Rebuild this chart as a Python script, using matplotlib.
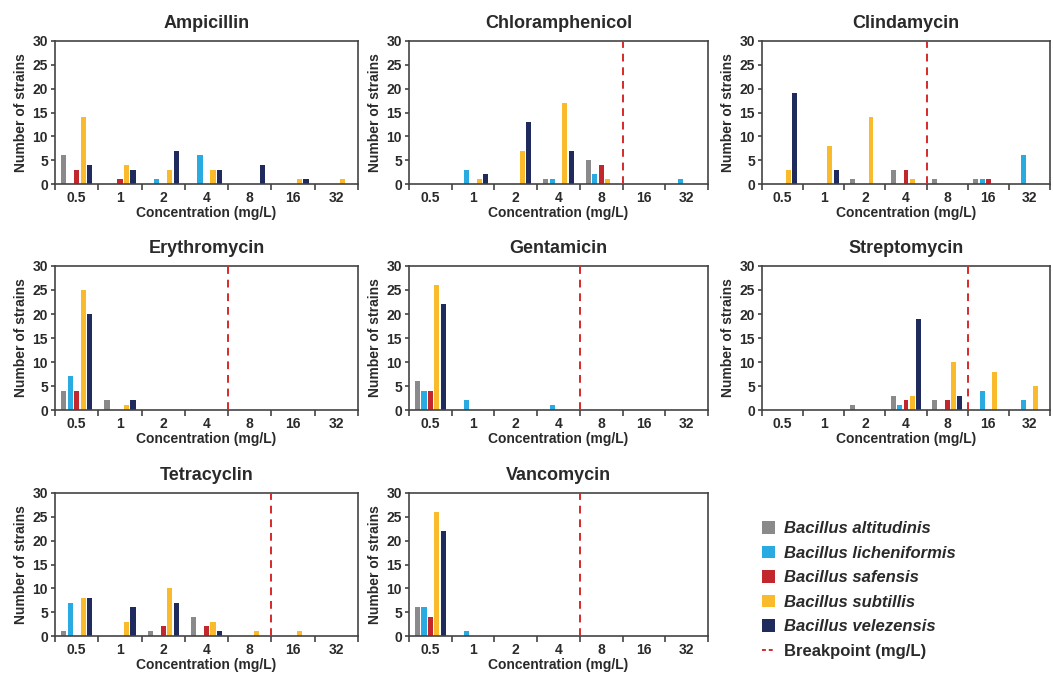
import numpy as np
import matplotlib
matplotlib.use('Agg')
from matplotlib import pyplot as plt
from matplotlib.patches import Patch
from matplotlib.lines import Line2D

plt.rcParams['font.family'] = ['Liberation Sans', 'DejaVu Sans']

concentrations = ['0.5', '1', '2', '4', '8', '16', '32']
species = ['Bacillus altitudinis', 'Bacillus licheniformis', 'Bacillus safensis',
           'Bacillus subtillis', 'Bacillus velezensis']
colors = ['#8a8a8c', '#29abe2', '#c1272d', '#f9bb2b', '#1f2b5c']

# counts per concentration, one list per species (altitudinis, licheniformis, safensis, subtillis, velezensis)
ampicillin = [[6, 0, 0, 0, 0, 0, 0],
              [0, 0, 1, 6, 0, 0, 0],
              [3, 1, 0, 0, 0, 0, 0],
              [14, 4, 3, 3, 0, 1, 1],
              [4, 3, 7, 3, 4, 1, 0]]
chloramphenicol = [[0, 0, 0, 1, 5, 0, 0],
                   [0, 3, 0, 1, 2, 0, 1],
                   [0, 0, 0, 0, 4, 0, 0],
                   [0, 1, 7, 17, 1, 0, 0],
                   [0, 2, 13, 7, 0, 0, 0]]
clindamycin = [[0, 0, 1, 3, 1, 1, 0],
               [0, 0, 0, 0, 0, 1, 6],
               [0, 0, 0, 3, 0, 1, 0],
               [3, 8, 14, 1, 0, 0, 0],
               [19, 3, 0, 0, 0, 0, 0]]
erythromycin = [[4, 2, 0, 0, 0, 0, 0],
                [7, 0, 0, 0, 0, 0, 0],
                [4, 0, 0, 0, 0, 0, 0],
                [25, 1, 0, 0, 0, 0, 0],
                [20, 2, 0, 0, 0, 0, 0]]
gentamicin = [[6, 0, 0, 0, 0, 0, 0],
              [4, 2, 0, 1, 0, 0, 0],
              [4, 0, 0, 0, 0, 0, 0],
              [26, 0, 0, 0, 0, 0, 0],
              [22, 0, 0, 0, 0, 0, 0]]
streptomycin = [[0, 0, 1, 3, 2, 0, 0],
                [0, 0, 0, 1, 0, 4, 2],
                [0, 0, 0, 2, 2, 0, 0],
                [0, 0, 0, 3, 10, 8, 5],
                [0, 0, 0, 19, 3, 0, 0]]
tetracyclin = [[1, 0, 1, 4, 0, 0, 0],
               [7, 0, 0, 0, 0, 0, 0],
               [0, 0, 2, 2, 0, 0, 0],
               [8, 3, 10, 3, 1, 1, 0],
               [8, 6, 7, 1, 0, 0, 0]]
vancomycin = [[6, 0, 0, 0, 0, 0, 0],
              [6, 1, 0, 0, 0, 0, 0],
              [4, 0, 0, 0, 0, 0, 0],
              [26, 0, 0, 0, 0, 0, 0],
              [22, 0, 0, 0, 0, 0, 0]]

antibiotics = ['Ampicillin', 'Chloramphenicol', 'Clindamycin', 'Erythromycin',
               'Gentamicin', 'Streptomycin', 'Tetracyclin', 'Vancomycin']
tables = [ampicillin, chloramphenicol, clindamycin, erythromycin,
          gentamicin, streptomycin, tetracyclin, vancomycin]
# breakpoint sits between two concentrations (index of the boundary), None = no line
breakpoints = [None, 4.5, 3.5, 3.5, 3.5, 4.5, 4.5, 3.5]

W, H = 1053, 675
fig = plt.figure(figsize=(W / 100, H / 100), dpi=100)

lefts = [55, 409, 762]
rights = [358, 708, 1050]
rows = [(41, 184), (266, 410), (493, 636)]

text_c = '#2a2a2a'
x = np.arange(len(concentrations))
offsets = (np.arange(5) - 2) * 0.15

for i, (name, data, bp) in enumerate(zip(antibiotics, tables, breakpoints)):
    r, c = divmod(i, 3)
    top, bottom = rows[r]
    ax = fig.add_axes([lefts[c] / W, 1 - bottom / H,
                       (rights[c] - lefts[c]) / W, (bottom - top) / H])
    for k in range(5):
        ax.bar(x + offsets[k], data[k], width=0.12, color=colors[k], zorder=2)
    if bp is not None:
        ax.axvline(bp, color='#d42a2a', ls=(0, (4, 3)), lw=1.4, zorder=3)
    ax.set_xlim(-0.5, 6.5)
    ax.set_ylim(0, 30)
    ax.set_yticks(range(0, 31, 5))
    ax.set_xticks(np.arange(-0.5, 7, 1))
    ax.set_xticklabels([])
    ax.set_xticks(x, minor=True)
    ax.set_xticklabels(concentrations, minor=True)
    ax.tick_params(axis='x', which='minor', length=0, pad=5)
    ax.tick_params(axis='x', which='major', length=4, width=1.2, color='#444444')
    ax.tick_params(axis='y', length=3, width=1.2, color='#444444', pad=2)
    for lab in ax.get_xticklabels(minor=True) + ax.get_yticklabels():
        lab.set_fontsize(10)
        lab.set_fontweight('bold')
        lab.set_color(text_c)
    for s in ax.spines.values():
        s.set_linewidth(1.2)
        s.set_color('#444444')
    ax.set_title(name, fontsize=13, fontweight='bold', color=text_c, pad=9)
    ax.set_ylabel('Number of strains', fontsize=10, fontweight='bold', color=text_c, labelpad=3)
    ax.set_xlabel('Concentration (mg/L)', fontsize=10, fontweight='bold', color=text_c, labelpad=1)

handles = [Patch(facecolor=col, edgecolor='none') for col in colors]
handles.append(Line2D([0], [0], color='#d42a2a', ls=(0, (2, 1.5)), lw=1.4))
leg = fig.legend(handles, species + ['Breakpoint (mg/L)'], loc='upper left',
                 bbox_to_anchor=(747 / W, 1 - 506 / H), frameon=False,
                 prop={'size': 12, 'weight': 'bold', 'style': 'italic'},
                 handlelength=0.8, handleheight=0.8, labelspacing=0.56, handletextpad=0.5)
for t in leg.get_texts():
    t.set_color(text_c)
leg.get_texts()[-1].set_style('normal')

fig.savefig('out.png', dpi=100)
